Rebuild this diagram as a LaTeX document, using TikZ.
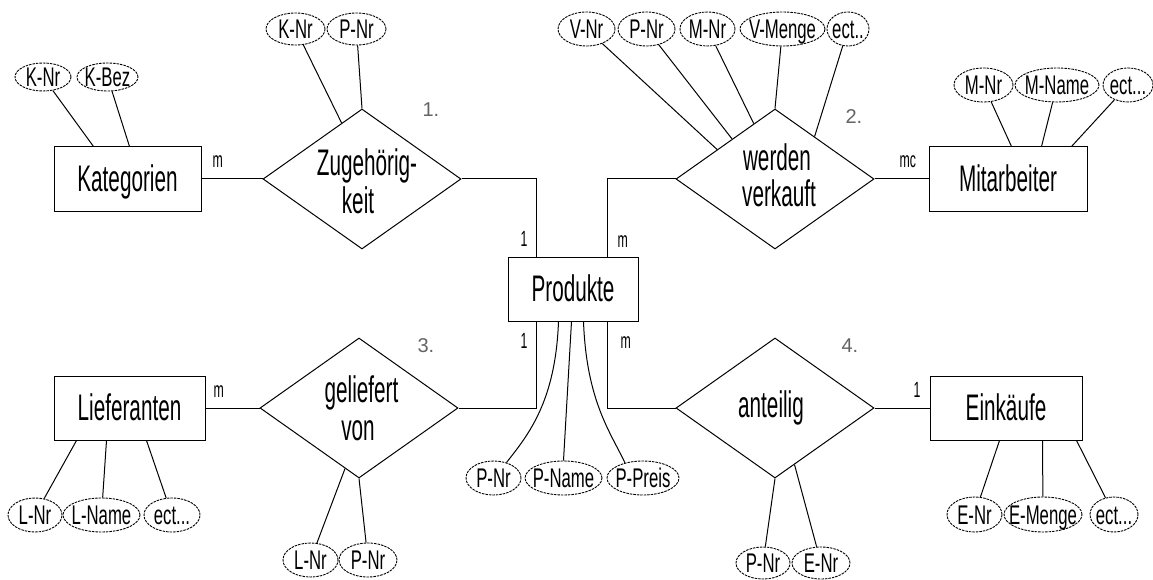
\documentclass[tikz,border=0pt]{standalone}
\usepackage{fontspec}
\setmainfont{Liberation Sans}
\newfontfamily\narrowfont[FakeStretch=0.56]{Liberation Sans}
\newfontfamily\attrfont[FakeStretch=0.62]{Liberation Sans}
\usetikzlibrary{shapes.geometric}
\definecolor{numgray}{RGB}{100,100,100}
% zero-width box so that an ellipse takes only its given size
\newcommand\zw[1]{\makebox[0pt][c]{#1}}

\begin{document}
\begin{tikzpicture}[x=1pt,y=-1pt,
  line width=1pt,
  entity/.style={draw, rectangle, inner sep=0pt, minimum height=64pt,
    font=\narrowfont\fontsize{37}{40}\selectfont, text height=25pt, text depth=0pt},
  attr/.style={draw, ellipse, line width=0.9pt, dash pattern=on 2.5pt off 1pt,
    inner sep=0pt, font=\attrfont\fontsize{27}{30}\selectfont,
    text height=19pt, text depth=0pt},
  rel/.style={draw, diamond, inner sep=0pt, minimum width=198pt, minimum height=140pt},
  rtext/.style={font=\narrowfont\fontsize{37}{40}\selectfont, inner sep=0pt, anchor=base},
  card/.style={font=\narrowfont\fontsize{22}{24}\selectfont, inner sep=0pt, anchor=base west},
  num/.style={font=\fontsize{20}{22}\selectfont, text=numgray, inner sep=0pt, anchor=base west}
]
\useasboundingbox (0,0) rectangle (1153,580);
\fill[white] (0,0) rectangle (1153,580);

% entities
\node[entity, minimum width=147pt] (kat)  at (127.5,179) {Kategorien};
\node[entity, minimum width=130pt] (prod) at (573,289)   {Produkte};
\node[entity, minimum width=158pt] (mit)  at (1008,179)  {Mitarbeiter};
\node[entity, minimum width=151pt] (lief) at (129.5,408) {Lieferanten};
\node[entity, minimum width=152pt] (eink) at (1006,408)  {Einkäufe\hspace{20pt}};

% relationships
\node[rel] (d1) at (362,179) {};
\node[rel] (d2) at (775,179) {};
\node[rel] (d3) at (359,408) {};
\node[rel] (d4) at (775,408) {};

\node[rtext] (d1a) at (367,176) {Zugehörig-};
\node[rtext] (d1b) at (358,213) {keit};
\node[rtext] (d2a) at (777,171) {werden};
\node[rtext] (d2b) at (779,207) {verkauft};
\node[rtext] (d3a) at (361.5,402) {geliefert};
\node[rtext] (d3b) at (358,440) {von};
\node[rtext] (d4a) at (771,417) {anteilig};

% attributes
\node[attr, minimum width=56pt, minimum height=28pt] (kn1)  at (43,77)    {\zw{K-Nr}};
\node[attr, minimum width=61pt, minimum height=28pt] (kbez) at (107.5,77) {\zw{K-Bez}};

\node[attr, minimum width=59pt, minimum height=32pt] (zkn) at (295.5,29) {\zw{K-Nr}};
\node[attr, minimum width=59pt, minimum height=32pt] (zpn) at (356.5,29) {\zw{P-Nr}};

\node[attr, minimum width=57pt, minimum height=34pt] (vnr)    at (586.5,29) {\zw{V-Nr}};
\node[attr, minimum width=57pt, minimum height=34pt] (vpn)    at (646.5,29) {\zw{P-Nr}};
\node[attr, minimum width=55pt, minimum height=34pt] (vmn)    at (707.5,29) {\zw{M-Nr}};
\node[attr, minimum width=85pt, minimum height=34pt] (vmenge) at (782.5,29) {\zw{V-Menge}};
\node[attr, minimum width=42pt, minimum height=34pt] (vect)   at (848,29)   {\zw{ect..}};

\node[attr, minimum width=59pt, minimum height=34pt] (mnr)   at (983.5,85) {\zw{M-Nr}};
\node[attr, minimum width=84pt, minimum height=34pt] (mname) at (1057,85)  {\zw{M-Name}};
\node[attr, minimum width=50pt, minimum height=34pt] (mect)  at (1128,85)  {\zw{ect...}};

\node[attr, minimum width=55pt, minimum height=34pt] (pnr)    at (493.5,478) {\zw{P-Nr}};
\node[attr, minimum width=77pt, minimum height=34pt] (pname)  at (563.5,478) {\zw{P-Name}};
\node[attr, minimum width=72pt, minimum height=34pt] (ppreis) at (643,478)   {\zw{P-Preis}};

\node[attr, minimum width=54pt, minimum height=34pt] (lnr)   at (35,515)    {\zw{L-Nr}};
\node[attr, minimum width=77pt, minimum height=34pt] (lname) at (101.5,515) {\zw{L-Name}};
\node[attr, minimum width=56pt, minimum height=34pt] (lect)  at (172,515)   {\zw{ect...}};

\node[attr, minimum width=55pt, minimum height=34pt] (glnr) at (310.5,560) {\zw{L-Nr}};
\node[attr, minimum width=58pt, minimum height=34pt] (gpnr) at (368,560)   {\zw{P-Nr}};

\node[attr, minimum width=54pt, minimum height=32pt] (apnr) at (763,563) {\zw{P-Nr}};
\node[attr, minimum width=58pt, minimum height=32pt] (aenr) at (821,563) {\zw{E-Nr}};

\node[attr, minimum width=55pt, minimum height=35pt] (enr)    at (974.5,514.5) {\zw{E-Nr}};
\node[attr, minimum width=78pt, minimum height=35pt] (emenge) at (1043,514.5)  {\zw{E-Menge}};
\node[attr, minimum width=48pt, minimum height=35pt] (eect)   at (1114,514.5)  {\zw{ect...}};

% relationship connectors
\draw (kat.east) -- (d1.west);
\draw (d1.east) -| ([xshift=29pt]prod.north west);
\draw ([xshift=100pt]prod.north west) |- (d2.west);
\draw (d2.east) -- (mit.west);
\draw ([xshift=29pt]prod.south west) |- (d3.east);
\draw (d3.west) -- (lief.east);
\draw ([xshift=100pt]prod.south west) |- (d4.west);
\draw (d4.east) -- (eink.west);

% attribute connectors
\draw (kn1)  -- ([xshift=40pt]kat.north west);
\draw (kbez) -- ([xshift=76pt]kat.north west);
\draw (zkn) -- (d1.110);
\draw (zpn) -- (d1.north);
\draw (vnr)    -- (d2.153);
\draw (vpn)    -- (d2.137);
\draw (vmn)    -- (d2.111);
\draw (vmenge) -- (d2.north);
\draw (vect)   -- (d2.47);
\draw (mnr)   -- ([xshift=83pt]mit.north west);
\draw (mname) -- ([xshift=113pt]mit.north west);
\draw (mect)  -- ([xshift=143pt]mit.north west);
\draw (lnr)   -- ([xshift=23pt]lief.south west);
\draw (lname) -- ([xshift=53pt]lief.south west);
\draw (lect)  -- ([xshift=93pt]lief.south west);
\draw (glnr) -- (d3.257);
\draw (gpnr) -- (d3.south);
\draw (apnr) -- (d4.south);
\draw (aenr) -- (d4.-71);
\draw (enr)    -- ([xshift=70pt]eink.south west);
\draw (emenge) -- ([xshift=113pt]eink.south west);
\draw (eect)   -- ([xshift=147pt]eink.south west);
\draw ([xshift=51pt]prod.south west) .. controls +(-3,80) and +(22,-28) .. (pnr.50);
\draw ([xshift=64pt]prod.south west) -- (pname.north);
\draw ([xshift=76pt]prod.south west) .. controls +(3,80) and +(-14,-30) .. (ppreis.140);

% cardinalities
\node[card] (c1) at (212,168) {m};
\node[card] (c2) at (520,246) {1};
\node[card] (c3) at (617,247) {m};
\node[card] (c4) at (899,168) {mc};
\node[card] (c5) at (520,348) {1};
\node[card] (c6) at (620,348) {m};
\node[card] (c7) at (213,397) {m};
\node[card] (c8) at (913,397) {1};

% relationship numbers
\node[num] (n1) at (422,117) {1.};
\node[num] (n2) at (845,124) {2.};
\node[num] (n3) at (417,352) {3.};
\node[num] (n4) at (841,352) {4.};
\end{tikzpicture}
\end{document}
